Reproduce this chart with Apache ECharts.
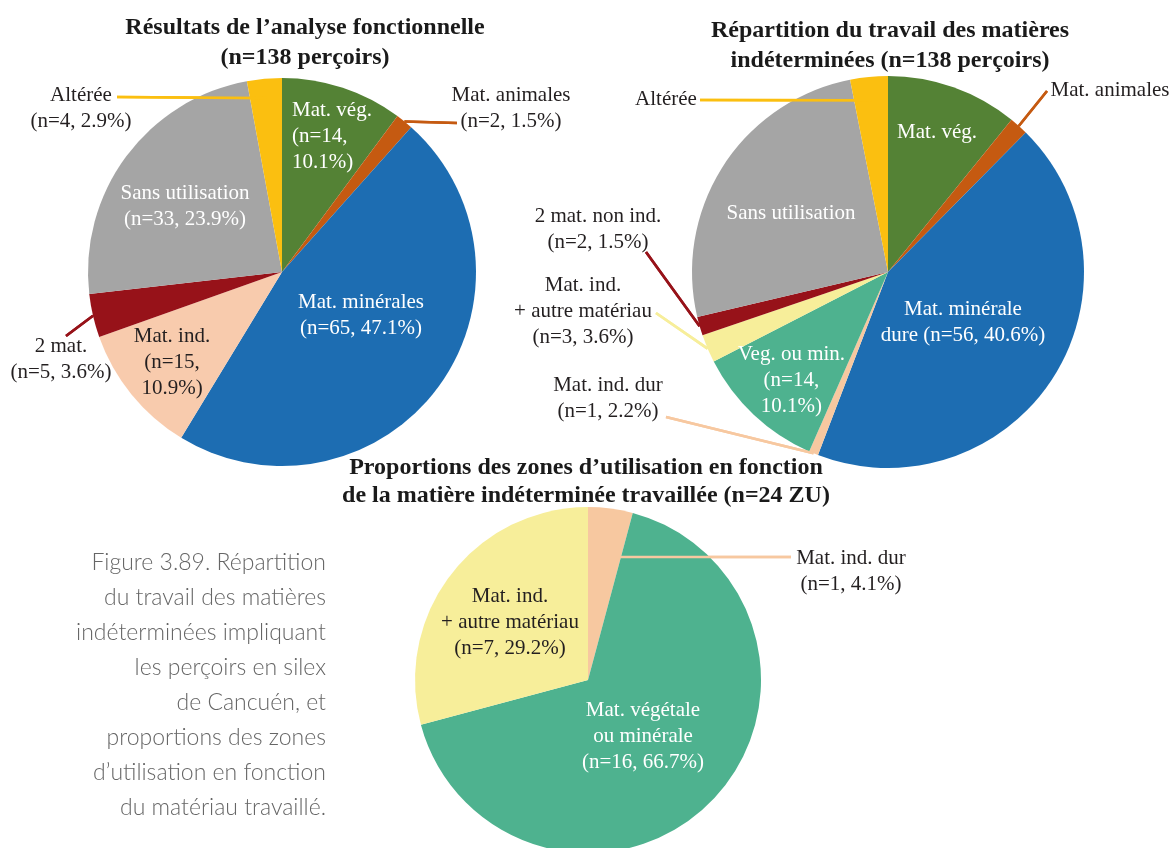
<!DOCTYPE html>
<html>
<head>
<meta charset="utf-8">
<script src="https://cdn.jsdelivr.net/npm/echarts@6/dist/echarts.min.js"></script>
<style>
  html, body { margin: 0; padding: 0; background: #ffffff; }
  #chart { width: 1172px; height: 848px; }
</style>
</head>
<body>
<div id="chart"></div>
<script>
// ---- Résultats de l'analyse fonctionnelle (n=138 perçoirs) ----
const analyseCategories = ['Mat. vég.', 'Mat. animales', 'Mat. minérales', 'Mat. ind.', '2 mat.', 'Sans utilisation', 'Altérée'];
const analyseCounts = [14, 2, 65, 15, 5, 33, 4];
const analyseLabels = [
  'Mat. vég.\n(n=14,\n10.1%)',
  'Mat. animales\n(n=2, 1.5%)',
  'Mat. minérales\n(n=65, 47.1%)',
  'Mat. ind.\n(n=15,\n10.9%)',
  '2 mat.\n(n=5, 3.6%)',
  'Sans utilisation\n(n=33, 23.9%)',
  'Altérée\n(n=4, 2.9%)'
];

// ---- Répartition du travail des matières indéterminées (n=138 perçoirs) ----
const repartitionCategories = ['Mat. vég.', 'Mat. animales', 'Mat. minérale dure', 'Mat. ind. dur', 'Veg. ou min.', 'Mat. ind. + autre matériau', '2 mat. non ind.', 'Sans utilisation', 'Altérée'];
const repartitionCounts = [14, 2, 56, 1, 14, 3, 2, 33, 4];
const repartitionLabels = [
  'Mat. vég.',
  'Mat. animales',
  'Mat. minérale\ndure (n=56, 40.6%)',
  'Mat. ind. dur\n(n=1, 2.2%)',
  'Veg. ou min.\n(n=14,\n10.1%)',
  'Mat. ind.\n+ autre matériau\n(n=3, 3.6%)',
  '2 mat. non ind.\n(n=2, 1.5%)',
  'Sans utilisation',
  'Altérée'
];

// ---- Zones d'utilisation selon la matière indéterminée (n=24 ZU) ----
const zonesCategories = ['Mat. ind. dur', 'Mat. végétale ou minérale', 'Mat. ind. + autre matériau'];
const zonesCounts = [1, 16, 7];
const zonesLabels = [
  'Mat. ind. dur\n(n=1, 4.1%)',
  'Mat. végétale\nou minérale\n(n=16, 66.7%)',
  'Mat. ind.\n+ autre matériau\n(n=7, 29.2%)'
];

// ---- Titles and caption ----
const titleAnalyse = 'Résultats de l\u2019analyse fonctionnelle\n(n=138 perçoirs)';
const titleRepartition = 'Répartition du travail des matières\nindéterminées (n=138 perçoirs)';
const titleZones = 'Proportions des zones d\u2019utilisation en fonction\nde la matière indéterminée travaillée (n=24 ZU)';
const captionText = 'Figure 3.89. Répartition\ndu travail des matières\nindéterminées impliquant\nles perçoirs en silex\nde Cancuén, et\nproportions des zones\nd\u2019utilisation en fonction\ndu matériau travaillé.';

// ---- Styling ----
const C = {
  green: '#548235', orange: '#C55A11', blue: '#1D6DB2', peach: '#F8CBAD',
  darkRed: '#971219', grey: '#A5A5A5', yellow: '#FBBF10', teal: '#4EB28F',
  paleYellow: '#F7EE9A', apricot: '#F7C8A0'
};
const analyseColors = [C.green, C.orange, C.blue, C.peach, C.darkRed, C.grey, C.yellow];
const repartitionColors = [C.green, C.orange, C.blue, C.apricot, C.teal, C.paleYellow, C.darkRed, C.grey, C.yellow];
const zonesColors = [C.apricot, C.teal, C.paleYellow];

const WHITE = '#ffffff';
const INK = '#231f20';
const SERIF = '"Liberation Serif", "DejaVu Serif", serif';
const LEADER_WIDTH = 2.6;

const pies = {
  analyse: { center: [282, 272], radius: 194 },
  repartition: { center: [888, 272], radius: 196 },
  zones: { center: [588, 680], radius: 173 }
};

// Label placement: fixed spots, polar spots (relative to a slice's mid-angle),
// and leader lines from a text-side point to a point along the slice radius.
const analyseLayout = [
  { x: 292, y: 136, align: 'left', color: WHITE },
  { x: 511, y: 108, color: INK, line: [457, 123], k: 1 },
  { x: 361, y: 315, color: WHITE },
  { x: 172, y: 362, color: INK },
  { x: 61, y: 359, color: INK, line: [66, 336], k: 1 },
  { x: 185, y: 206, color: WHITE },
  { x: 81, y: 108, color: INK, line: [117, 97], k: 0.9 }
];
const repartitionLayout = [
  { x: 937, y: 132, color: WHITE },
  { x: 1110, y: 90, color: INK, line: [1047, 91], k: 1 },
  { x: 963, y: 322, color: WHITE },
  { x: 608, y: 398, color: INK, line: [666, 417], k: 1 },
  { polar: [-1.5, 0.74], color: WHITE },
  { x: 583, y: 311, color: INK, line: [656, 313], k: 1 },
  { x: 598, y: 229, color: INK, line: [646, 252], k: 1 },
  { x: 791, y: 213, color: WHITE },
  { x: 666, y: 99, color: INK, line: [700, 100], k: 0.88 }
];
const zonesLayout = [
  { x: 851, y: 571, color: INK, line: [791, 557], k: 0.717 },
  { x: 643, y: 736, color: WHITE },
  { x: 510, y: 622, color: INK }
];

// Leader lines resolved during label layout, redrawn above the slices.
const leaderLines = {};

function midAngle(counts, i) {
  const total = counts.reduce((a, b) => a + b, 0);
  let before = 0;
  for (let j = 0; j < i; j++) before += counts[j];
  return (before + counts[i] / 2) / total * 360;
}

function buildPie(name, pie, categories, counts, labels, colors, layout) {
  const data = categories.map((cat, i) => {
    const spec = layout[i];
    const outside = !!spec.line;
    return {
      name: cat,
      value: counts[i],
      itemStyle: { color: colors[i] },
      label: {
        position: outside ? 'outside' : 'inside',
        color: spec.color
      },
      labelLine: { show: outside }
    };
  });
  return {
    type: 'pie',
    name: name,
    center: pie.center,
    radius: pie.radius,
    startAngle: 90,
    clockwise: true,
    avoidLabelOverlap: false,
    animation: false,
    silent: true,
    data: data,
    itemStyle: { borderWidth: 0 },
    label: {
      show: true,
      formatter: (p) => labels[p.dataIndex],
      fontFamily: SERIF,
      fontSize: 21,
      lineHeight: 26,
      align: 'center'
    },
    labelLine: {
      show: true,
      showAbove: true,
      smooth: false,
      length: 10,
      length2: 10,
      lineStyle: { width: LEADER_WIDTH }
    },
    labelLayout: function (params) {
      const spec = layout[params.dataIndex];
      const cx = pie.center[0], cy = pie.center[1];
      let x = spec.x, y = spec.y;
      if (spec.polar) {
        const a = (midAngle(counts, params.dataIndex) + spec.polar[0]) * Math.PI / 180;
        const r = spec.polar[1] * pie.radius;
        x = cx + r * Math.sin(a);
        y = cy - r * Math.cos(a);
      }
      const out = {
        x: x,
        y: y,
        align: spec.align || 'center',
        verticalAlign: 'middle'
      };
      if (spec.line) {
        let edge;
        if (params.labelLinePoints && params.labelLinePoints.length) {
          edge = params.labelLinePoints[0];
        } else {
          const a = midAngle(counts, params.dataIndex) * Math.PI / 180;
          edge = [cx + pie.radius * Math.sin(a), cy - pie.radius * Math.cos(a)];
        }
        const anchor = [cx + (edge[0] - cx) * spec.k, cy + (edge[1] - cy) * spec.k];
        out.labelLinePoints = [spec.line, anchor];
        leaderLines[name + '-' + params.dataIndex] = { points: out.labelLinePoints, color: colors[params.dataIndex] };
      }
      return out;
    }
  };
}

const chart = echarts.init(document.getElementById('chart'), null, { renderer: 'canvas' });

const textGraphics = [
  {
    type: 'text', x: 305, y: 43, silent: true,
    style: { text: titleAnalyse, fill: '#1a1a1a', font: 'bold 24px ' + SERIF, lineHeight: 30, align: 'center', verticalAlign: 'middle' }
  },
  {
    type: 'text', x: 890, y: 46, silent: true,
    style: { text: titleRepartition, fill: '#1a1a1a', font: 'bold 24px ' + SERIF, lineHeight: 30, align: 'center', verticalAlign: 'middle' }
  },
  {
    type: 'text', x: 586, y: 482, silent: true,
    style: { text: titleZones, fill: '#1a1a1a', font: 'bold 24px ' + SERIF, lineHeight: 28, align: 'center', verticalAlign: 'middle' }
  },
  {
    type: 'text', x: 326, y: 685, silent: true,
    style: { text: captionText, fill: '#666666', font: '300 23px Lato, "Noto Sans", sans-serif', lineHeight: 35, align: 'right', verticalAlign: 'middle' }
  }
];

const option = {
  backgroundColor: '#ffffff',
  animation: false,
  series: [
    buildPie('analyse', pies.analyse, analyseCategories, analyseCounts, analyseLabels, analyseColors, analyseLayout),
    buildPie('repartition', pies.repartition, repartitionCategories, repartitionCounts, repartitionLabels, repartitionColors, repartitionLayout),
    buildPie('zones', pies.zones, zonesCategories, zonesCounts, zonesLabels, zonesColors, zonesLayout)
  ],
  graphic: textGraphics
};

chart.setOption(option);

// Leader lines sit on top of neighbouring slices.
const leaderGraphics = Object.keys(leaderLines).map((key) => ({
  type: 'polyline',
  silent: true,
  z: 100,
  shape: { points: leaderLines[key].points },
  style: { stroke: leaderLines[key].color, lineWidth: LEADER_WIDTH, fill: null }
}));
chart.setOption({ graphic: textGraphics.concat(leaderGraphics) });
</script>
</body>
</html>
